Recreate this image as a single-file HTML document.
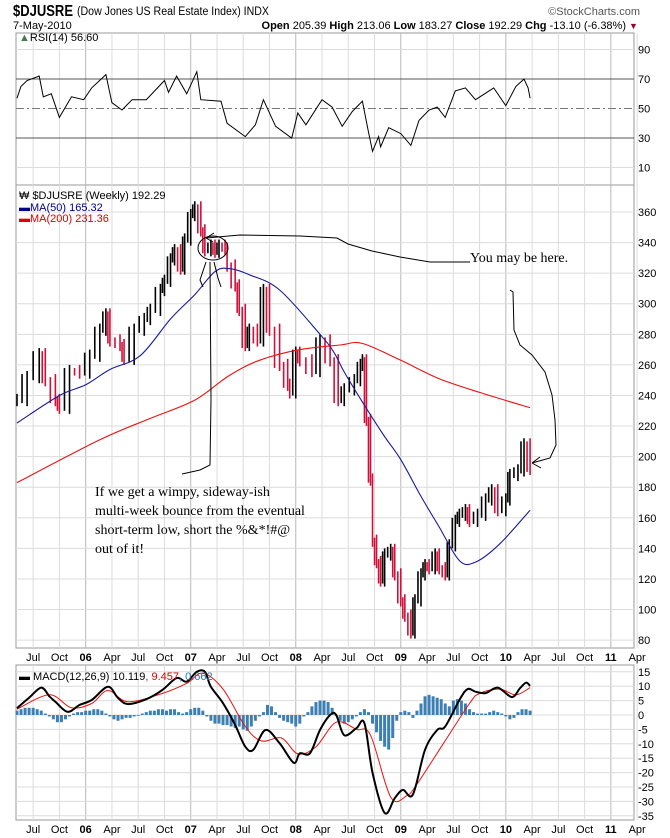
<!DOCTYPE html>
<html><head><meta charset="utf-8"><style>
body{margin:0;background:#fff;}
svg{display:block;font-family:"Liberation Sans",sans-serif;}
</style></head><body>
<svg id="c" width="670" height="838" viewBox="0 0 670 838">
<g>
<text x="13" y="16" font-size="16" font-weight="bold" textLength="60" lengthAdjust="spacingAndGlyphs">$DJUSRE</text>
<text x="77" y="15" font-size="11.5" textLength="192" lengthAdjust="spacingAndGlyphs">(Dow Jones US Real Estate Index) INDX</text>
<text x="13" y="29" font-size="11">7-May-2010</text>
<text x="640" y="15" font-size="11" fill="#555" text-anchor="end">©StockCharts.com</text>
<text x="626" y="29" font-size="11" text-anchor="end"><tspan font-weight="bold">Open</tspan> 205.39 <tspan font-weight="bold">High</tspan> 213.06 <tspan font-weight="bold">Low</tspan> 183.27 <tspan font-weight="bold">Close</tspan> 192.29 <tspan font-weight="bold">Chg</tspan> -13.10 (-6.38%)</text>
<text x="629" y="29" font-size="9" fill="#a00020">▼</text>
</g>
<g id="grid"></g>
<g id="marks"></g>
<g fill="none" stroke="#000" stroke-width="1">
<path d="M206,238 L214,233 M206,238 L213,242 M206,238 L240,235 L300,236 L337,238 L348,244 L372,251 L400,257 L430,262 L470,262"/>
<ellipse cx="213" cy="248" rx="15" ry="12"/>
<path d="M210,262 L211,400 L210,465 L200,470 L182,474 M206,262 L200,280 L203,287 M214,262 L218,278 L221,287"/>
<path d="M510,290 L513,292 L514,330 L520,345 L532,355 L545,372 L552,395 L555,420 L556,445 L550,458 L532,463 M532,463 L540,457 M532,463 L541,468"/>
<text x="470" y="262" font-family="Liberation Serif,serif" font-size="14" fill="#000" stroke="none">You may be here.</text>
<g font-family="Liberation Serif,serif" font-size="14" fill="#000" stroke="none">
<text x="95" y="496">If we get a wimpy, sideway-ish</text>
<text x="95" y="515">multi-week bounce from the eventual</text>
<text x="95" y="534">short-term low, short the %&amp;*!#@</text>
<text x="95" y="553">out of it!</text>
</g>
</g>
<g font-size="11">
<text x="19" y="41"><tspan fill="#4a7a4a">▲</tspan>RSI(14) 56.60</text>
<text x="19" y="199">₩ $DJUSRE (Weekly) 192.29</text>
<text x="19" y="211" fill="#00008b">▬MA(50) 165.32</text>
<text x="19" y="222" fill="#e00000">▬MA(200) 231.36</text>
<text x="19" y="680">▬ MACD(12,26,9) 10.119<tspan fill="#e00000">, 9.457</tspan><tspan fill="#1a7ab8">, 0.662</tspan></text>
</g>
</svg>
<script>
// ---- data (weeks since May 2005) ----
const priceWeeks=[0,5,11,14,19,21,26,31,36,41,44,46,51,53,58,63,66,71,73,76,78,81,83,86,88,91,93,96,98,100,103,104,108,110,113,115,119,122,125,130,134,135,138,140,146,150,155,159,162,167,170,171,173,175,176,178,180,182,185,187,190,192,195,197,200,202,204,207,209,212,214,217,219,222,224,228,232,235,238,242,244,248,251,254];
const priceCloses=[237,252,267,250,237,232,256,255,266,283,293,276,273,264,283,290,296,309,315,329,335,323,342,358,363,348,335,338,334,338,336,325,312,296,273,283,276,309,283,260,247,242,268,263,256,276,263,237,244,250,260,263,224,185,145,131,119,136,139,123,106,96,85,106,123,129,127,136,127,123,142,158,162,165,158,162,172,178,165,172,188,191,208,192];
const ma50Weeks=[0,21,34,46,61,76,88,98,105,115,130,150,157,163,180,190,200,209,219,227,239,254];
const ma50Values=[222,240,247,257,266,290,306,321,323,319,309,280,268,253,217,198,174,154,132,131,143,165];
const ma200Weeks=[0,41,66,88,105,120,140,160,171,190,209,229,254];
const ma200Values=[183,211,225,237,253,263,270,273,274,263,251,242,232];
const rsiWeeks=[0,2,5,11,13,17,21,27,33,37,44,47,52,57,64,73,75,79,84,89,91,101,104,113,118,122,128,136,139,143,151,156,161,166,171,174,176,179,180,184,190,195,199,204,208,212,217,222,227,236,242,247,251,253,254];
const rsiValues=[57,65,69,72,58,60,44,58,56,64,73,54,49,56,56,69,61,72,60,75,56,55,40,31,39,56,38,30,47,39,56,51,38,48,55,34,21,31,24,37,33,25,42,49,51,44,62,64,56,64,52,65,70,64,57];
const macdWeeks=[0,6,12,16,19,25,31,37,45,50,55,64,72,79,84,89,93,96,102,108,113,117,123,130,137,140,145,150,155,158,162,168,172,176,182,187,191,196,202,208,212,219,223,227,232,238,245,249,252,254];
const macdValues=[2.4,6,9.5,6.5,4.6,1.1,3.5,5.2,9.8,5.9,3.8,5.5,8.7,12.8,11.6,15,15,9.8,4.1,-3.5,-11,-12.1,-5.2,-9.8,-16.6,-13.3,-13.3,-5.2,0,0,-7,-4.6,-2.8,-20,-34,-28.9,-26,-27.6,-12.1,-5.2,-4,5.2,9,8.1,7.6,9.5,6.2,9.3,11.2,10.1];
const signalWeeks=[0,16,27,37,45,55,72,84,92,102,113,121,131,139,148,158,168,175,185,193,198,211,224,229,239,247,254];
const signalValues=[2,7,2.5,4,8.5,4.6,7.5,11,14.5,9,-4,-9,-8,-13.5,-11,-2.5,-5,-7,-28.5,-28,-24,-10,4,7.5,9,7,9.5];
const histValues=[1.5,2,2.5,2.5,2.5,2,1.5, 0.5,-0.5,-1.5,-2.5,-2.5,-1.5,-0.5, 0.5,1,1,1.5,1.5,2,2,1.5,0.5, -0.5,-1.5,-2,-1.5,-1,-1,-0.5,0, 0.5,1,1.5,1.5,2,2,1.5,2,2,1,0.5,1, 2,2.5,2.5,1.5, -0.5,-2,-3,-3,-3.5,-3.5,-4,-4.5,-4,-5, -5.5,-4,-2,-0.5,1, 3.5,3,1, -1,-2,-2.5,-3,-4,-3, -0.5,1,3, 4.5,5,5,4.5,2.5, 0,-2,-3,-2.5,-1.5,-0.5, 1,2,1, -3,-6,-9,-11,-12,-8,-2, 1,1.5,1,-1, 1.5,4,6.5,7,6.5,6,5.5,4, 3,5,5.5,5,4,2,1,0.5, 0.5,0.5,1,1.5,1,0.5, -0.5,-1.5,-1, 1,2,2,1.5];
const timeLabels=["Jul","Oct","06","Apr","Jul","Oct","07","Apr","Jul","Oct","08","Apr","Jul","Oct","09","Apr","Jul","Oct","10","Apr","Jul","Oct","11","Apr"];
const priceTicks=[80,100,120,140,160,180,200,220,240,260,280,300,320,340,360];
const rsiTicks=[10,30,50,70,90];
const macdTicks=[-35,-30,-25,-20,-15,-10,-5,0,5,10,15];

// ---- scales ----
const L=16,R=634;
const xw=w=>17+w*2.02;
const yP=p=>212+(360-p)*1.529;
const yR=r=>182.3-r*1.475;
const yM=v=>715-v*2.88;
const NS='http://www.w3.org/2000/svg';
const grid=document.getElementById('grid'), marks=document.getElementById('marks');
function mk(tag,attrs,parent){const e=document.createElementNS(NS,tag);for(const k in attrs)e.setAttribute(k,attrs[k]);parent.appendChild(e);return e;}

const panels=[[33,185],[185,648],[665,820]];
panels.forEach((p,i)=>{
  const r=mk('rect',{x:L,y:p[0],width:R-L,height:p[1]-p[0],fill:'none',stroke:'#999'},grid);
  
  
});
timeLabels.forEach((lab,i)=>{
  const w=8+i*13, x=xw(w), yr=/^\d\d$/.test(lab);
  panels.forEach(p=>{
    const l=mk('line',{x1:x,x2:x,y1:p[0],y2:p[1],stroke:yr?'#b8b8b8':'#dcdcdc'},grid);
    
    
  });
  [661,833].forEach(y=>{
    const t=mk('text',{x:x,y:y,'font-size':11,'text-anchor':'middle','font-weight':yr?'bold':'normal'},grid);
    t.textContent=lab;
    
    
  });
});
function hTicks(ticks,ys,top,bot,name,special){
  ticks.forEach(v=>{
    const y=ys(v);
    let st='#dcdcdc',da=null;
    if(special&&special[v]){st=special[v][0];da=special[v][1];}
    if(y>top+1&&y<bot-1){
      const l=mk('line',{x1:L,x2:R,y1:y,y2:y,stroke:st},grid);
      if(da)l.setAttribute('stroke-dasharray',da);
      
      
    }
    const t=mk('text',{x:638,y:y+4,'font-size':11},grid);
    t.textContent=v;
    
    
  });
}
hTicks(rsiTicks,yR,33,185,'rsi',{70:['#555',null],30:['#555',null],50:['#777','8,3,2,3']});
hTicks(priceTicks,yP,185,648,'price');
hTicks(macdTicks,yM,665,820,'macd');

function line(ws,vs,ys,color,width,name,smooth){
  const pts=ws.map((w,i)=>[xw(w),ys(vs[i])]);
  let d='M'+pts[0][0].toFixed(1)+','+pts[0][1].toFixed(1);
  for(let i=1;i<pts.length;i++){
    if(!smooth){d+=' L'+pts[i][0].toFixed(1)+','+pts[i][1].toFixed(1);continue;}
    const p0=pts[Math.max(0,i-2)],p1=pts[i-1],p2=pts[i],p3=pts[Math.min(pts.length-1,i+1)];
    const c1=[p1[0]+(p2[0]-p0[0])/6,p1[1]+(p2[1]-p0[1])/6];
    const c2=[p2[0]-(p3[0]-p1[0])/6,p2[1]-(p3[1]-p1[1])/6];
    d+=` C${c1[0].toFixed(1)},${c1[1].toFixed(1)} ${c2[0].toFixed(1)},${c2[1].toFixed(1)} ${p2[0].toFixed(1)},${p2[1].toFixed(1)}`;
  }
  const p=mk('path',{d:d,fill:'none',stroke:color,'stroke-width':width},marks);
  
  
}
line(rsiWeeks,rsiValues,yR,'#000',1,'rsi-line',false);
priceCloses.forEach((c,i)=>{
  const prev=i?priceCloses[i-1]:c;
  const x=xw(priceWeeks[i]);
  const x0=i?xw(priceWeeks[i-1]):x-2;
  const col=c<prev?'#d0103a':'#000';
  const hi=Math.max(c,prev)+4, lo=Math.min(c,prev)-4;
  const b=mk('line',{x1:x,x2:x,y1:yP(hi),y2:yP(lo),stroke:col,'stroke-width':1.6},marks);
  
  
  if(x-x0>3){
    const m=mk('line',{x1:(x+x0)/2,x2:(x+x0)/2,y1:yP(Math.max(c,prev)+2),y2:yP(Math.min(c,prev)-2),stroke:col,'stroke-width':1.6},marks);
    
    
  }
});
line(ma50Weeks,ma50Values,yP,'#1a1a9a',1.1,'ma50-line',true);
line(ma200Weeks,ma200Values,yP,'#ee1111',1.1,'ma200-line',true);
histValues.forEach((v,i)=>{
  const x=xw(i*2), y0=yM(0), y1=yM(v);
  const r=mk('rect',{x:x-1.5,y:Math.min(y0,y1),width:3,height:Math.max(0.8,Math.abs(y1-y0)),fill:'#3b7fb5'},marks);
  
  
});
line(signalWeeks,signalValues,yM,'#ee1111',1,'signal-line',true);
line(macdWeeks,macdValues,yM,'#000',2,'macd-line',true);
</script>
</body></html>
